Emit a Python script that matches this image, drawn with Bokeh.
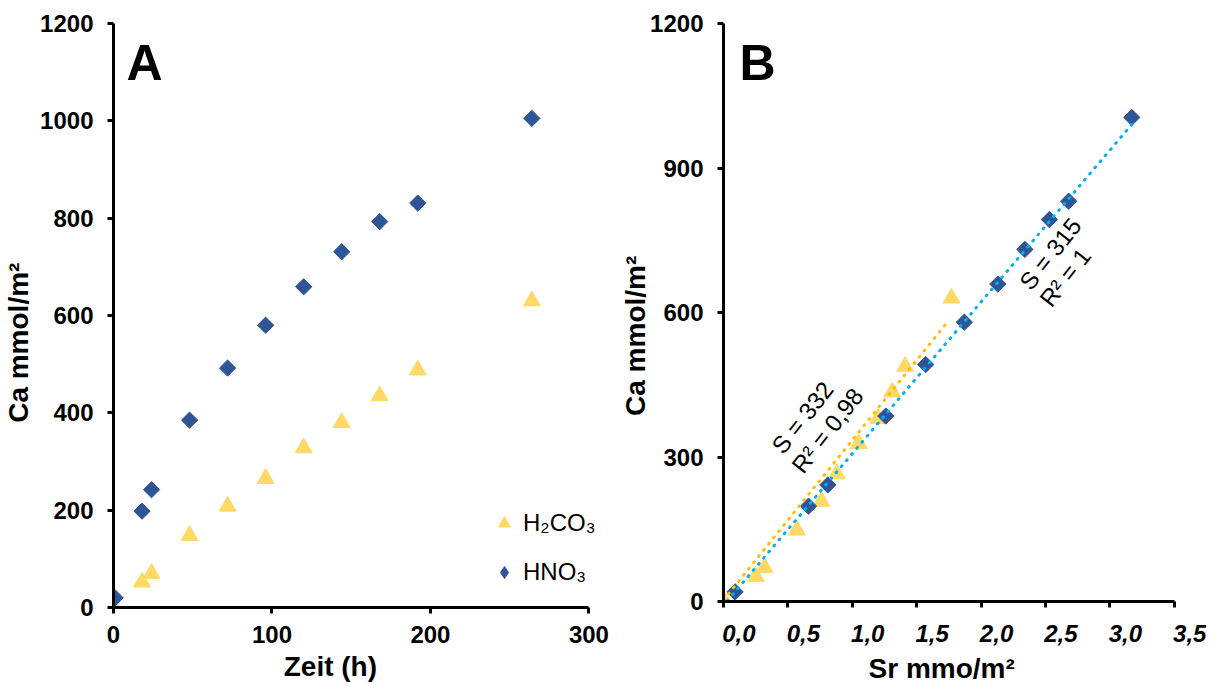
import math
from bokeh.plotting import figure
from bokeh.layouts import row
from bokeh.models import (FixedTicker, LinearAxis, Label, Legend, LegendItem,
                          CustomJSTickFormatter, Range1d)
from bokeh.embed import file_html
from bokeh.resources import INLINE

# ---------------- data ----------------
zeit_hno3 = [1, 18, 24, 48, 72, 96, 120, 144, 168, 192, 264]
zeit_h2co3 = [0, 18, 24, 48, 72, 96, 120, 144, 168, 192, 264]
ca_hno3 = [20, 198, 242, 385, 492, 580, 659, 731, 793, 831, 1005]
ca_h2co3 = [3, 52, 70, 148, 208, 265, 328, 380, 435, 488, 630]
sr_hno3 = [0.09, 0.66, 0.81, 1.26, 1.57, 1.87, 2.13, 2.34, 2.53, 2.68, 3.17]
sr_h2co3 = [0.0, 0.25, 0.32, 0.57, 0.76, 0.88, 1.05, 1.2, 1.31, 1.41, 1.77]

# linear trend lines (slopes from chart annotation)
fit_hno3_slope, fit_hno3_icpt, fit_hno3_x = 315, -8, [0.03, 3.2]
fit_h2co3_slope, fit_h2co3_icpt, fit_h2co3_x = 332, 3, [0.0, 1.745]

a_xticks = [0, 100, 200, 300]
a_yticks = [0, 200, 400, 600, 800, 1000, 1200]
b_xticks = [0.0, 0.5, 1.0, 1.5, 2.0, 2.5, 3.0, 3.5]
b_yticks = [0, 300, 600, 900, 1200]

a_xtitle = "Zeit (h)"
b_xtitle = "Sr mmo/m\u00b2"
ytitle = "Ca mmol/m\u00b2"
label_h2co3 = "H\u2082CO\u2083"
label_hno3 = "HNO\u2083"

BLUE = "#2F5597"
YELLOW = "#FFD966"
LBLUE = "#00B0F0"
ORANGE = "#FFC000"
FONT = "Liberation Sans"
TXT = "#000000"
NB = "\u00a0"  # non-breaking space used to offset titles like the original


def style_axis(ax, tick_size="24px", italic=False):
    ax.axis_line_width = 3
    ax.axis_line_color = TXT
    ax.major_tick_line_width = 3
    ax.major_tick_line_color = TXT
    ax.major_tick_out = 6
    ax.major_tick_in = 0
    ax.minor_tick_line_color = None
    ax.major_label_text_font = FONT
    ax.major_label_text_font_size = tick_size
    ax.major_label_text_font_style = "bold italic" if italic else "bold"
    ax.major_label_text_color = TXT
    ax.axis_label_text_font = FONT
    ax.axis_label_text_font_size = "28px"
    ax.axis_label_text_font_style = "bold"
    ax.axis_label_text_color = TXT


# ---------------- panel A ----------------
pA = figure(frame_width=496, frame_height=584,
            x_range=Range1d(0, 313), y_range=Range1d(0, 1200),
            output_backend="svg", toolbar_location=None,
            min_border_left=112, min_border_right=0,
            min_border_top=23, min_border_bottom=78)
pA.xgrid.visible = False
pA.ygrid.visible = False
pA.outline_line_color = None

for ax in pA.xaxis:
    style_axis(ax)
    ax.ticker = FixedTicker(ticks=a_xticks)
    ax.bounds = (0, 300)
    ax.major_label_standoff = 12
    ax.axis_label = a_xtitle + NB * 8
    ax.axis_label_standoff = 5
for ax in pA.yaxis:
    style_axis(ax)
    ax.ticker = FixedTicker(ticks=a_yticks)
    ax.major_label_standoff = 14
    ax.axis_label = ytitle + NB * 7
    ax.axis_label_standoff = 3

rT = pA.scatter(zeit_h2co3, ca_h2co3, marker="triangle", size=17,
                fill_color=YELLOW, line_color=YELLOW)
rD = pA.scatter(zeit_hno3, ca_hno3, marker="square", size=11.5,
                angle=math.pi / 4, fill_color=BLUE, line_color=BLUE)
# hidden renderer that only provides the diamond key for the legend
rD_leg = pA.scatter(zeit_hno3, ca_hno3, marker="diamond", size=12,
                    fill_color=BLUE, line_color=BLUE, visible=False)

legend = Legend(items=[LegendItem(label=label_h2co3, renderers=[rT]),
                       LegendItem(label=label_hno3, renderers=[rD_leg])],
                location=(376, 20), border_line_color=None,
                background_fill_alpha=0, padding=0, margin=0, spacing=19,
                glyph_width=30, glyph_height=30, label_height=30,
                label_standoff=4, label_text_font=FONT,
                label_text_font_size="24px", label_text_color=TXT)
pA.add_layout(legend)

pA.add_layout(Label(x=8.2, y=1118, text="A", text_font=FONT,
                    text_font_size="50px", text_font_style="bold",
                    text_baseline="alphabetic", text_align="left",
                    text_color=TXT))

# ---------------- panel B ----------------
shift = 0.12
pB = figure(frame_width=483, frame_height=578,
            x_range=Range1d(0, 3.75), y_range=Range1d(0, 1200),
            output_backend="svg", toolbar_location=None,
            min_border_left=114, min_border_right=0,
            min_border_top=23, min_border_bottom=84)
pB.xgrid.visible = False
pB.ygrid.visible = False
pB.outline_line_color = None

for ax in pB.xaxis:
    style_axis(ax)
    ax.ticker = FixedTicker(ticks=b_xticks)
    ax.bounds = (0, 3.5)
    ax.major_label_text_font_size = "1px"
    ax.major_label_text_color = None
    ax.major_label_standoff = 0

lab_ax = LinearAxis(ticker=FixedTicker(ticks=[t + shift for t in b_xticks]),
                    formatter=CustomJSTickFormatter(
                        args=dict(shift=shift),
                        code="return (tick - shift).toFixed(1).replace('.', ',');"))
style_axis(lab_ax, italic=True)
lab_ax.axis_line_color = None
lab_ax.major_tick_line_color = None
lab_ax.major_tick_out = 0
lab_ax.major_label_standoff = 17
lab_ax.axis_label = b_xtitle + NB * 6
lab_ax.axis_label_standoff = 8
pB.add_layout(lab_ax, "below")

for ax in pB.yaxis:
    style_axis(ax)
    ax.ticker = FixedTicker(ticks=b_yticks)
    ax.major_label_standoff = 14
    ax.axis_label = ytitle + NB * 6
    ax.axis_label_standoff = -4

pB.scatter(sr_h2co3, ca_h2co3, marker="triangle", size=17,
           fill_color=YELLOW, line_color=YELLOW)
pB.scatter(sr_hno3, ca_hno3, marker="square", size=11.5, angle=math.pi / 4,
           fill_color=BLUE, line_color=BLUE)

pB.line(fit_h2co3_x, [fit_h2co3_slope * x + fit_h2co3_icpt for x in fit_h2co3_x],
        line_color=ORANGE, line_width=3, line_dash="1 7", line_cap="round")
pB.line(fit_hno3_x, [fit_hno3_slope * x + fit_hno3_icpt for x in fit_hno3_x],
        line_color=LBLUE, line_width=3, line_dash="1 7", line_cap="round")

ang = math.radians(52)
for (tx, ty, t) in [(0.613, 382, "S = 332"), (0.807, 355, "R\u00b2 = 0,98"),
                    (2.537, 722, "S = 315"), (2.653, 673, "R\u00b2 = 1")]:
    pB.add_layout(Label(x=tx, y=ty, text=t, angle=ang, text_font=FONT,
                        text_font_size="24px", text_align="center",
                        text_baseline="middle", text_color=TXT))

pB.add_layout(Label(x=0.124, y=1117, text="B", text_font=FONT,
                    text_font_size="50px", text_font_style="bold",
                    text_baseline="alphabetic", text_align="left",
                    text_color=TXT))

layout = row(pA, pB)
open("out.html", "w").write(file_html(layout, INLINE))
